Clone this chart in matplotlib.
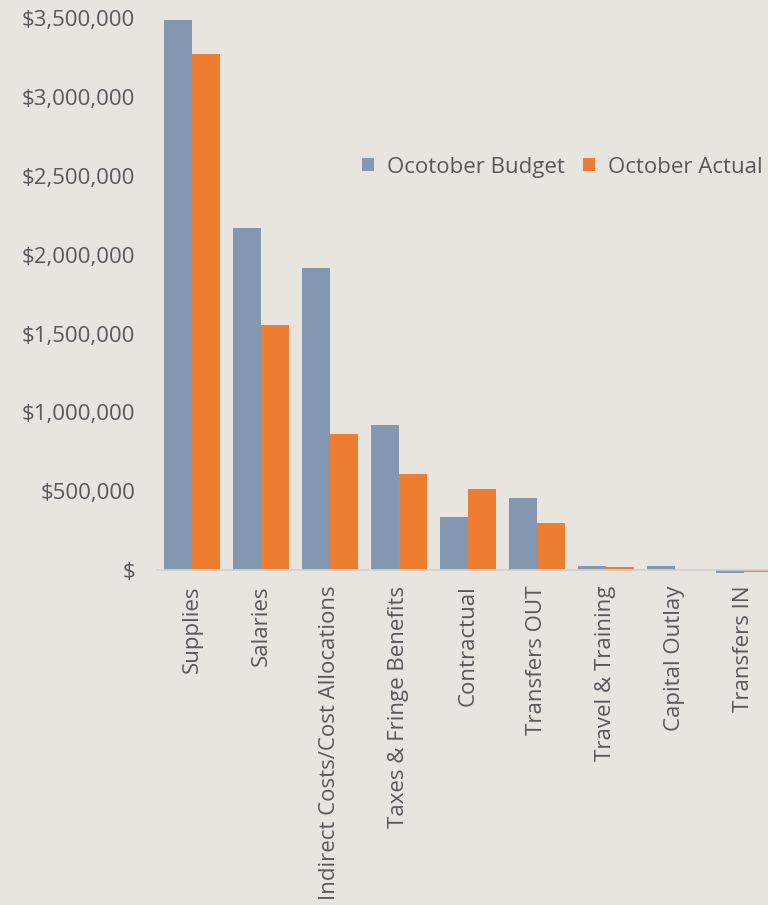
import matplotlib
matplotlib.use("Agg")
import matplotlib.pyplot as plt
import numpy as np
from matplotlib.ticker import FuncFormatter

categories = ["Supplies", "Salaries", "Indirect Costs/Cost Allocations",
              "Taxes & Fringe Benefits", "Contractual", "Transfers OUT",
              "Travel & Training", "Capital Outlay", "Transfers IN"]
budget = [3490000, 2168000, 1915000, 919000, 336000, 457000, 25000, 24000, -15000]
actual = [3272000, 1553000, 862000, 609000, 514000, 298000, 18000, 4000, -14000]
yticks = [0, 500000, 1000000, 1500000, 2000000, 2500000, 3000000, 3500000]

bg = "#E8E5DF"
txt = "#595959"
plt.rcParams["font.family"] = ["Open Sans", "DejaVu Sans"]

fig = plt.figure(figsize=(7.68, 9.05), dpi=100, facecolor=bg)
ax = fig.add_axes([0.205, 0.370, 0.8086, 0.610], facecolor=bg)

x = np.arange(len(categories))
w = 0.4
ax.bar(x - w / 2, budget, w, color="#8497B0", label="Ocotober Budget", clip_on=False)
ax.bar(x + w / 2, actual, w, color="#ED7D31", label="October Actual", clip_on=False)

ax.set_xlim(-0.5, len(categories) - 0.5)
ax.set_ylim(0, 3500000)
ax.set_yticks(yticks)
ax.yaxis.set_major_formatter(FuncFormatter(lambda v, p: "$" if v == 0 else f"${v:,.0f}"))
ax.set_xticks(x)
ax.set_xticklabels(categories, rotation=90)
ax.tick_params(axis="y", length=0, pad=16, labelsize=16, labelcolor=txt)
ax.tick_params(axis="x", length=0, pad=11, labelsize=16, labelcolor=txt)

for s in ["top", "right", "left"]:
    ax.spines[s].set_visible(False)
ax.spines["bottom"].set_color("#D0D0D0")
ax.spines["bottom"].set_linewidth(1.2)

leg = ax.legend(loc="center right", bbox_to_anchor=(0.975, 0.730), ncol=2, frameon=False,
                fontsize=16, handlelength=0.55, handleheight=0.55, columnspacing=0.8,
                handletextpad=0.6, borderaxespad=0, borderpad=0)
for t in leg.get_texts():
    t.set_color(txt)

fig.savefig("out.png", dpi=100, facecolor=bg)
